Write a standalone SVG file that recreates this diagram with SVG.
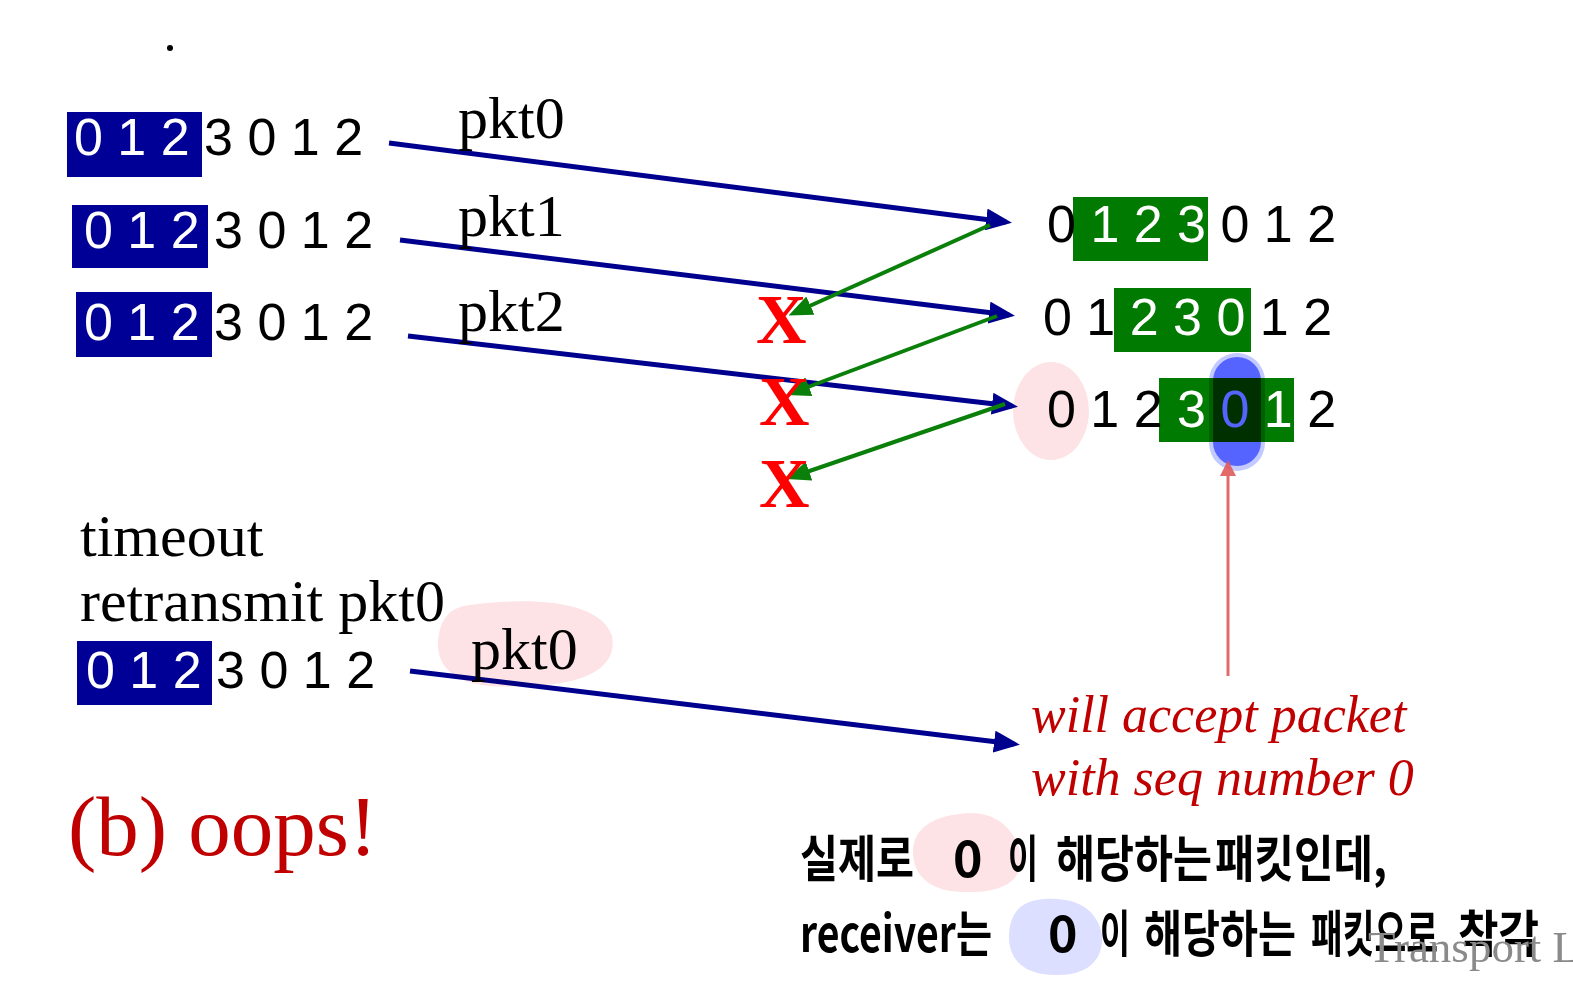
<svg xmlns="http://www.w3.org/2000/svg" width="1573" height="999" viewBox="0 0 1573 999">
<style>
.num{font-family:"Liberation Sans",Arial,sans-serif;font-size:52px;fill:#000}
.w{fill:#fff}
.lbl{font-family:"Liberation Serif","Times New Roman",serif;font-size:60px;fill:#000}
.xm{font-family:"Liberation Serif","Times New Roman",serif;font-weight:bold;font-size:70px;fill:#ff0000}
.note{font-family:"Liberation Serif","Times New Roman",serif;font-style:italic;font-size:52px;fill:#c00000}
.oops{font-family:"Liberation Serif","Times New Roman",serif;font-size:85px;fill:#c00000}
.kr{font-family:"Noto Sans CJK KR","Noto Sans",sans-serif;font-weight:700;font-size:50px;fill:#000}
.tl{font-family:"Liberation Serif","Times New Roman",serif;font-size:45px;fill:#8a8a8a}
.sbox{fill:#000096}
.rbox{fill:#007a00}
.pink{fill:#fde3e5;mix-blend-mode:multiply}
.lav{fill:#dcdfff;mix-blend-mode:multiply}
.blu{fill:#5566ff;mix-blend-mode:multiply}
.blu-halo{fill:#9aa6ff;mix-blend-mode:multiply}
.blue-line{stroke:#00008f;stroke-width:5;fill:none;marker-end:url(#ah-blue)}
.green-line{stroke:#0a800a;stroke-width:4;fill:none;marker-end:url(#ah-green)}
.red-line{stroke:#e05a5a;stroke-width:3;fill:none;marker-end:url(#ah-red);opacity:0.9}
</style>
<defs>
<marker id="ah-blue" markerUnits="userSpaceOnUse" markerWidth="26" markerHeight="22" refX="20" refY="11" orient="auto">
<path d="M0,0 L26,11 L0,22 Z" fill="#00008f"/>
</marker>
<marker id="ah-green" markerUnits="userSpaceOnUse" markerWidth="24" markerHeight="20" refX="18" refY="10" orient="auto">
<path d="M0,0 L24,10 L0,20 Z" fill="#0a800a"/>
</marker>
<marker id="ah-red" markerUnits="userSpaceOnUse" markerWidth="16" markerHeight="16" refX="10" refY="8" orient="auto">
<path d="M0,0 L16,8 L0,16 Z" fill="#e05a5a"/>
</marker>
</defs>
<rect width="1573" height="999" fill="#fff"/>

<circle cx="170" cy="48" r="3" fill="#000"/>

<!-- sender rows -->
<g id="sender-row-1">
<rect class="sbox" x="67" y="112" width="135" height="65"/>
<text class="num" x="74" y="155"><tspan class="w">0 1 2</tspan> 3 0 1 2</text>
</g>
<g id="sender-row-2">
<rect class="sbox" x="72" y="205" width="136" height="63"/>
<text class="num" x="84" y="248"><tspan class="w">0 1 2</tspan> 3 0 1 2</text>
</g>
<g id="sender-row-3">
<rect class="sbox" x="76" y="292" width="136" height="65"/>
<text class="num" x="84" y="340"><tspan class="w">0 1 2</tspan> 3 0 1 2</text>
</g>
<g id="sender-row-4">
<rect class="sbox" x="77" y="641" width="135" height="64"/>
<text class="num" x="86" y="688"><tspan class="w">0 1 2</tspan> 3 0 1 2</text>
</g>

<g id="timeout-label">
<text class="lbl" x="80" y="556">timeout</text>
<text class="lbl" x="80" y="621">retransmit pkt0</text>
</g>

<!-- receiver rows -->
<g id="receiver-row-1">
<rect class="rbox" x="1073" y="197" width="135" height="64"/>
<text class="num" x="1047" y="242">0 <tspan class="w">1 2 3</tspan> 0 1 2</text>
</g>
<g id="receiver-row-2">
<rect class="rbox" x="1114" y="288" width="137" height="64"/>
<text class="num" x="1043" y="335">0 1 <tspan class="w">2 3 0</tspan> 1 2</text>
</g>
<g id="receiver-row-3">
<ellipse class="pink" cx="1051" cy="411" rx="38" ry="49"/>
<rect class="rbox" x="1159" y="378" width="135" height="64"/>
<text class="num" x="1047" y="427">0 1 2 <tspan class="w">3 0 1</tspan> 2</text>
<rect class="blu-halo" x="1209" y="353" width="56" height="118" rx="28" opacity="0.6"/>
<rect class="blu" x="1213" y="357" width="48" height="109" rx="24" opacity="0.85"/>
</g>

<!-- connectors -->
<g id="connectors">
<line class="blue-line" x1="389" y1="143" x2="1006" y2="222"/>
<line class="blue-line" x1="400" y1="240" x2="1009" y2="315"/>
<line class="blue-line" x1="408" y1="336" x2="1012" y2="406"/>
<line class="blue-line" x1="410" y1="671" x2="1014" y2="744"/>
<line class="green-line" x1="990" y1="225" x2="794" y2="313"/>
<line class="green-line" x1="997" y1="316" x2="792" y2="393"/>
<line class="green-line" x1="1005" y1="404" x2="792" y2="477"/>
<line class="red-line" x1="1228" y1="676" x2="1228" y2="466"/>
</g>

<g id="pkt-labels">
<text class="lbl" x="458" y="138">pkt0</text>
<text class="lbl" x="458" y="236">pkt1</text>
<text class="lbl" x="458" y="331">pkt2</text>
<path class="pink" d="M470,605 C530,597 600,600 612,636 C618,668 585,686 520,686 C462,690 437,672 438,642 C440,616 452,607 470,605 Z"/>
<text class="lbl" x="471" y="669">pkt0</text>
</g>

<g id="lost-marks">
<text class="xm" x="756" y="343">X</text>
<text class="xm" x="759" y="425">X</text>
<text class="xm" x="759" y="507">X</text>
</g>

<g id="note">
<text class="note" x="1031" y="732">will accept packet</text>
<text class="note" x="1031" y="795">with seq number 0</text>
</g>

<g id="caption">
<text class="oops" x="68" y="855">(b) oops!</text>
</g>

<g id="handwritten">
<path class="pink" d="M960,814 C995,808 1016,830 1021,855 C1024,882 1000,893 965,892 C930,892 912,875 913,850 C914,828 935,816 960,814 Z"/>
<path class="lav" d="M1045,899 C1080,897 1098,912 1102,935 C1104,962 1085,976 1055,975 C1025,975 1008,960 1009,935 C1010,912 1022,900 1045,899 Z"/>
<text class="kr" x="800" y="877" textLength="114" lengthAdjust="spacingAndGlyphs">실제로</text>
<text class="kr" x="953" y="877">0</text>
<text class="kr" x="1008" y="877" textLength="30" lengthAdjust="spacingAndGlyphs">이</text>
<text class="kr" x="1056" y="877" textLength="156" lengthAdjust="spacingAndGlyphs">해당하는</text>
<text class="kr" x="1215" y="877" textLength="172" lengthAdjust="spacingAndGlyphs">패킷인데,</text>
<text class="kr" x="800" y="952" textLength="192" lengthAdjust="spacingAndGlyphs">receiver는</text>
<text class="kr" x="1048" y="952">0</text>
<text class="kr" x="1100" y="952" textLength="30" lengthAdjust="spacingAndGlyphs">이</text>
<text class="kr" x="1144" y="952" textLength="152" lengthAdjust="spacingAndGlyphs">해당하는</text>
<text class="kr" x="1311" y="952" textLength="127" lengthAdjust="spacingAndGlyphs">패킷으로</text>
<text class="kr" x="1458" y="952" textLength="81" lengthAdjust="spacingAndGlyphs">착각</text>
</g>

<g id="footer">
<text class="tl" x="1368" y="962">Transport L</text>
</g>
</svg>
